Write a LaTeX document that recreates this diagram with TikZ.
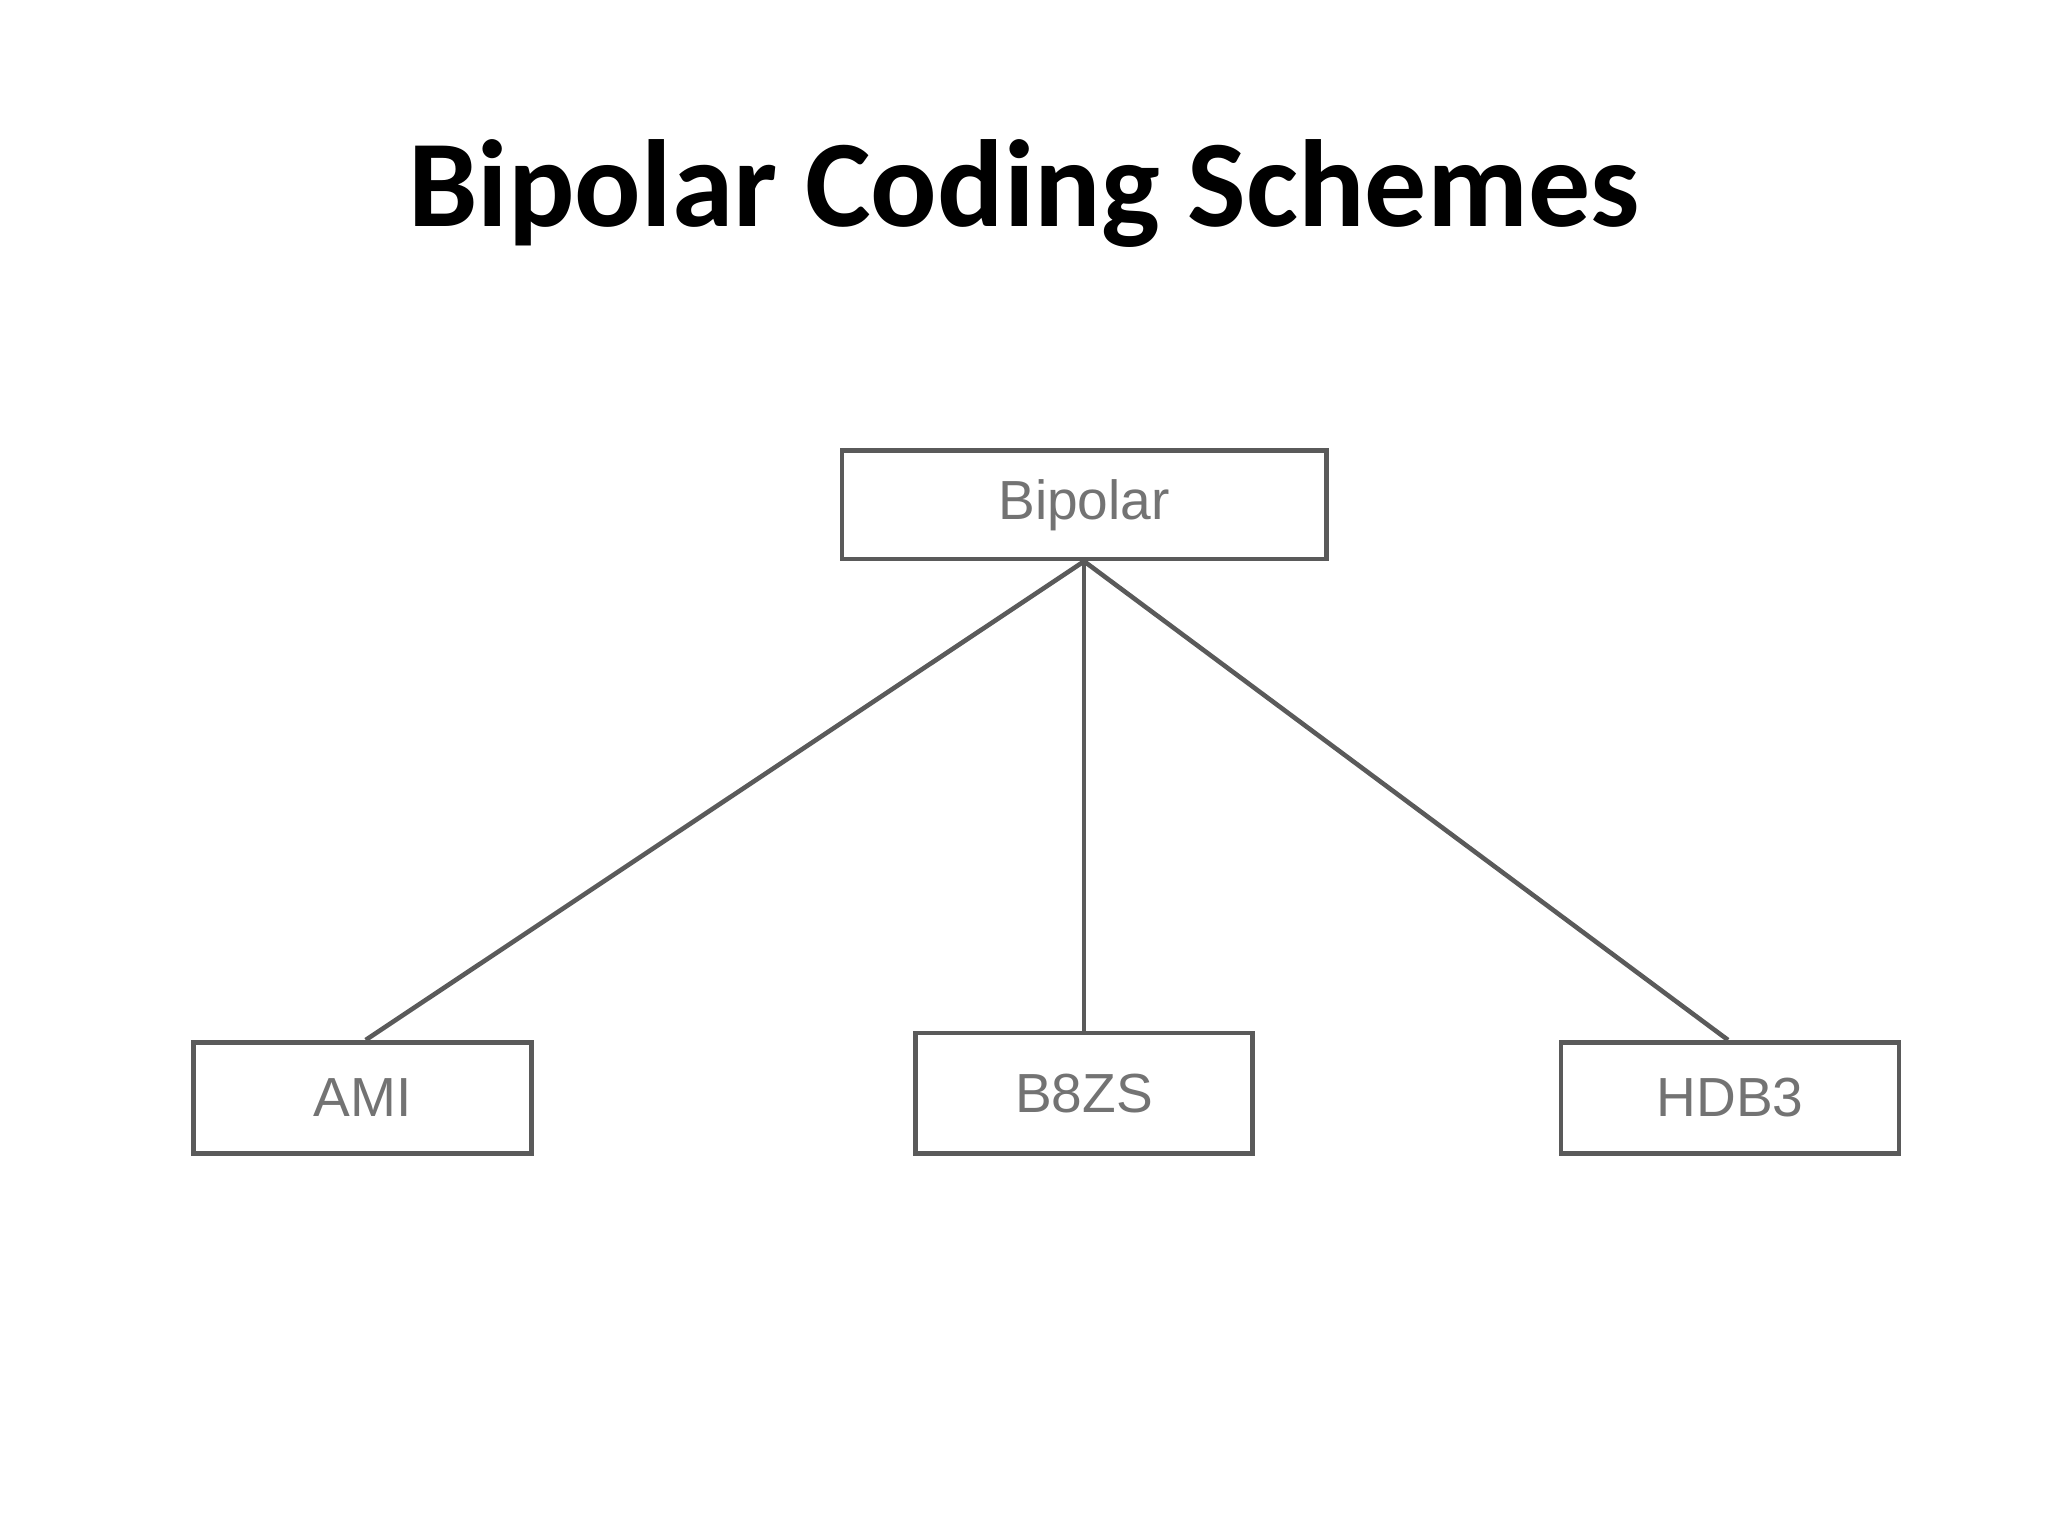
\documentclass[tikz,border=0pt]{standalone}
\usepackage{fontspec}
\setmainfont{Carlito}
\newfontfamily\boxfont{Liberation Sans}
\definecolor{boxgray}{HTML}{5A5A5A}
\begin{document}
\begin{tikzpicture}[thin]
        \tikzset{scheme/.style={draw=boxgray, line width=1pt, minimum height=0.86cm, inner sep=0pt, font=\boxfont\fontsize{12}{14}\selectfont, text=boxgray!85}}
        \useasboundingbox (0, 0) rectangle (15.68, -11.76);
        \node[font=\bfseries\fontsize{27}{32}\selectfont] (title) at (7.84, -1.48) {Bipolar Coding Schemes};
        \node[scheme, minimum width=3.71cm, minimum height=0.83cm] (bip) at (8.30, -3.865) {Bipolar};
        \node[scheme, minimum width=2.59cm, minimum height=0.85cm] (ami) at (2.775, -8.405) {AMI};
        \node[scheme, minimum width=2.58cm, minimum height=0.92cm] (b8zs) at (8.30, -8.37) {B8ZS};
        \node[scheme, minimum width=2.59cm, minimum height=0.85cm] (hdb3) at (13.245, -8.405) {HDB3};
        \draw[boxgray, line width=1pt] (bip.south) -- (ami.north -| 2.80, 0);
        \draw[boxgray, line width=1pt] (bip.south) -- (b8zs.north);
        \draw[boxgray, line width=1pt] (bip.south) -- (hdb3.north -| 13.23, 0);
    \end{tikzpicture}
\end{document}
